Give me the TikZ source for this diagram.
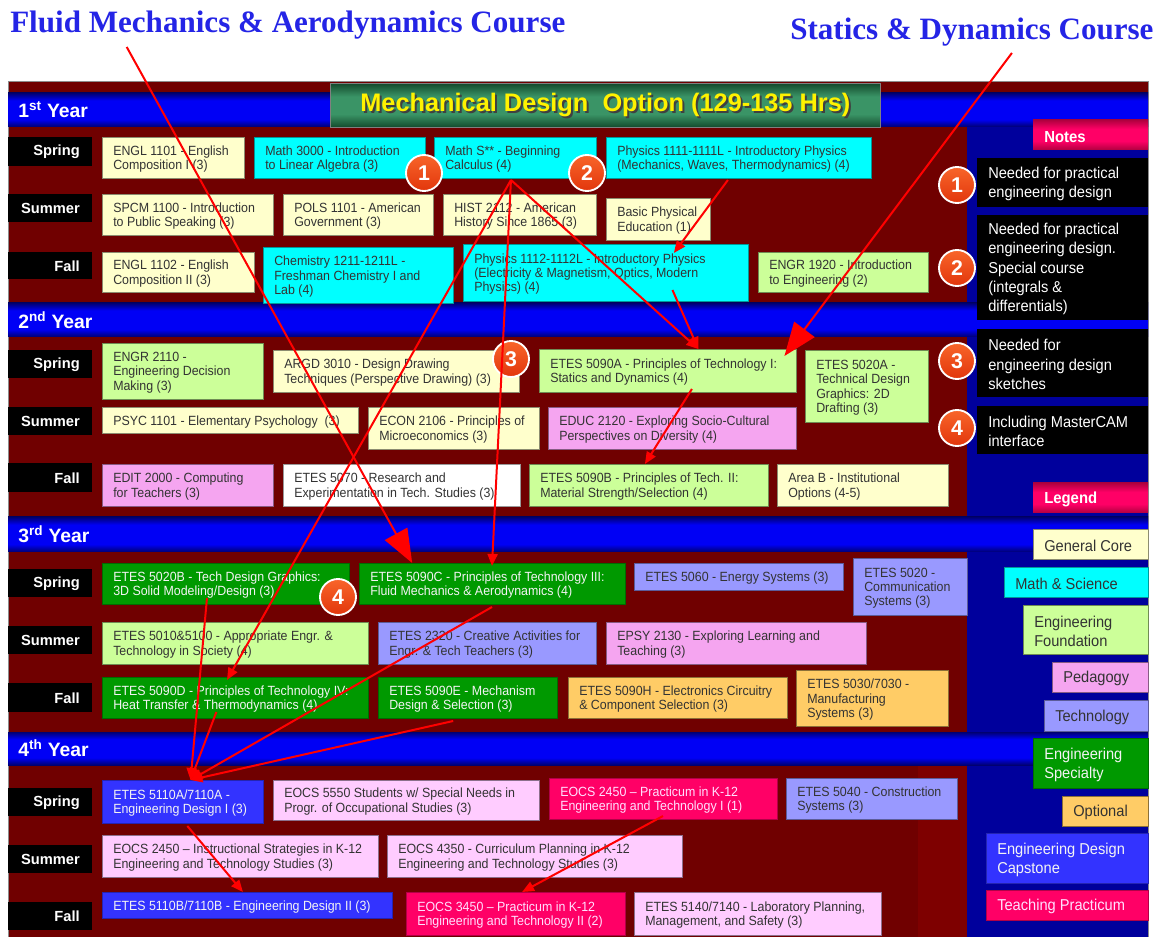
\documentclass[tikz,border=0pt]{standalone}
\usepackage{fontspec}
\setmainfont{Liberation Sans}
\newfontfamily\boxfont[FakeStretch=0.93]{Liberation Sans}
\newfontfamily\ttlfont{Liberation Serif}
\usetikzlibrary{arrows.meta,calc,shadings}

% palette
\definecolor{bgRed}{HTML}{700000}
\definecolor{bgRedB}{HTML}{7E0000}
\definecolor{bgNavy}{HTML}{00009C}
\definecolor{ybDark}{HTML}{000070}
\definecolor{ybLight}{HTML}{0000F5}
\definecolor{hdDark}{HTML}{134A2C}
\definecolor{hdLight}{HTML}{3A9466}
\definecolor{pkDark}{HTML}{B0003F}
\definecolor{pkLight}{HTML}{FF0066}
\definecolor{cCream}{HTML}{FFFFCC}
\definecolor{cCyan}{HTML}{00FFFF}
\definecolor{cLGreen}{HTML}{CCFF99}
\definecolor{cPink}{HTML}{F5A5F0}
\definecolor{cLPink}{HTML}{FFCCFF}
\definecolor{cTech}{HTML}{9999FF}
\definecolor{cGreen}{HTML}{009900}
\definecolor{cOrange}{HTML}{FFCC66}
\definecolor{cBlue}{HTML}{3333FF}
\definecolor{cHot}{HTML}{FF0066}
\definecolor{txtDark}{HTML}{333333}
\definecolor{txtLight}{HTML}{F4F4F4}
\definecolor{ttlBlue}{HTML}{2424E6}
\definecolor{numTop}{HTML}{F8652A}
\definecolor{numBot}{HTML}{E2360C}

% shadings for the bars
\pgfdeclareverticalshading{yearbar}{100bp}{color(0bp)=(ybDark); color(25bp)=(ybDark); color(36bp)=(ybLight); color(64bp)=(ybLight); color(75bp)=(ybDark); color(100bp)=(ybDark)}
\pgfdeclareverticalshading{headbar}{100bp}{color(0bp)=(hdDark); color(25bp)=(hdDark); color(40bp)=(hdLight); color(60bp)=(hdLight); color(75bp)=(hdDark); color(100bp)=(hdDark)}
\pgfdeclareverticalshading{pinkbar}{100bp}{color(0bp)=(pkDark); color(25bp)=(pkDark); color(40bp)=(pkLight); color(60bp)=(pkLight); color(75bp)=(pkDark); color(100bp)=(pkDark)}

\tikzset{
  crsfont/.style={font=\boxfont\fontsize{10}{10.7}\selectfont, align=left, inner sep=0pt},
  notefont/.style={font=\boxfont\fontsize{11.8}{14.5}\selectfont, align=left, inner sep=0pt},
  headfont/.style={font=\boxfont\bfseries\fontsize{12}{14}\selectfont, align=left, inner sep=0pt},
  bCream/.style={fill=cCream, draw=cCream!55!black},   bCream-txt/.style={text=txtDark},
  bCyan/.style={fill=cCyan, draw=cCyan!60!black},      bCyan-txt/.style={text=txtDark},
  bLGreen/.style={fill=cLGreen, draw=cLGreen!55!black},bLGreen-txt/.style={text=txtDark},
  bPink/.style={fill=cPink, draw=cPink!55!black},      bPink-txt/.style={text=txtDark},
  bLPink/.style={fill=cLPink, draw=cLPink!55!black},   bLPink-txt/.style={text=txtDark},
  bWhite/.style={fill=white, draw=black!40},           bWhite-txt/.style={text=txtDark},
  bTech/.style={fill=cTech, draw=cTech!60!black},      bTech-txt/.style={text=txtDark},
  bOrange/.style={fill=cOrange, draw=cOrange!55!black},bOrange-txt/.style={text=txtDark},
  bGreen/.style={fill=cGreen, draw=cGreen!70!black},   bGreen-txt/.style={text=txtLight},
  bBlue/.style={fill=cBlue, draw=cBlue!70!black},      bBlue-txt/.style={text=txtLight},
  bHot/.style={fill=cHot, draw=cHot!70!black},         bHot-txt/.style={text=cLPink!60!white},
  bBlack/.style={fill=black},                          bBlack-txt/.style={text=white},
  bNote/.style={shading=pinkbar},                      bNote-txt/.style={text=white},
  seasontxt/.style={text=white, inner sep=0pt, font=\bfseries\fontsize{11}{12}\selectfont},
  yearlbl/.style={text=white, inner sep=0pt, anchor=west, font=\bfseries\fontsize{14.5}{15}\selectfont},
  num/.style={circle, top color=numTop, bottom color=numBot, draw=white, line width=1.4pt,
    minimum size=27pt, inner sep=0pt, text=white, font=\bfseries\fontsize{16}{16}\selectfont},
  arr/.style={draw=red, line width=1.5pt, -{Triangle[length=9pt,width=7.5pt]}},
  bigarr/.style={draw=red, line width=1.5pt, -{Triangle[length=25pt,width=19pt]}},
}

% course box: [font style]{name}{box style}{x1}{y1}{x2}{y2}{text}
\newcommand\crsbox[8][crsfont]{%
  \pgfmathsetmacro\bxw{(#6-#4)*0.75}%
  \pgfmathsetmacro\bxh{(#7-#5)*0.75}%
  \node[#3,rectangle,inner sep=0pt,outer sep=0pt,line width=0.6pt,
        minimum width=\bxw pt,minimum height=\bxh pt,anchor=north west] (#2) at (#4,#5) {};%
  \node[#1,#3-txt,anchor=west] (#2-t) at ([xshift=8.25pt,yshift=-1.2pt]#2.west) {#8};%
}
% term label on the left: {name}{y1}{y2}{text}
\newcommand\seasonlbl[4]{%
  \pgfmathsetmacro\bxh{(#3-#2)*0.75}%
  \node[fill=black,inner sep=0pt,outer sep=0pt,minimum width=63pt,minimum height=\bxh pt,anchor=north west] (#1) at (8,#2) {};%
  \node[seasontxt,anchor=east] (#1-t) at ([xshift=-9pt,yshift=-0.5pt]#1.east) {#4};%
}

\begin{document}
\begin{tikzpicture}[x=0.75pt,y=-0.75pt]
\useasboundingbox (0,0) rectangle (1157,937);
\fill[white] (0,0) rectangle (1157,937);

% panels
\fill[bgRed] (8,82) rectangle (1148,937);
\fill[bgRedB] (918,765) rectangle (967,937);
\fill[bgNavy] (967,127) rectangle (1148,937);
\draw[black!45, line width=0.75pt] (8,82) rectangle (1148,937);

% year bars
\fill[shading=yearbar] (8,93) rectangle (1148,127);
\fill[shading=yearbar] (8,303) rectangle (1148,337);
\fill[shading=yearbar] (8,517) rectangle (1148,552);
\fill[shading=yearbar] (8,732) rectangle (1148,765);
\node[yearlbl] (yr1) at (18,110) {1\textsuperscript{st} Year};
\node[yearlbl] (yr2) at (18,320) {2\textsuperscript{nd} Year};
\node[yearlbl] (yr3) at (18,534.5) {3\textsuperscript{rd} Year};
\node[yearlbl] (yr4) at (18,748.5) {4\textsuperscript{th} Year};

% program header
\node[shading=headbar, draw=black!50, line width=0.5pt, minimum width=412.5pt, minimum height=33pt,
      inner sep=0pt, anchor=north west] (hdr) at (330,83) {};
\node[text=black!75, font=\bfseries\fontsize{19}{20}\selectfont, inner sep=0pt] (hdr-s) at ([xshift=1.5pt,yshift=-1.5pt]hdr.center) {Mechanical Design~ Option (129-135 Hrs)};
\node[text=yellow, font=\bfseries\fontsize{19}{20}\selectfont, inner sep=0pt] (hdr-t) at (hdr.center) {Mechanical Design~ Option (129-135 Hrs)};

% course titles above
\node[text=ttlBlue, font=\ttlfont\bfseries\fontsize{23.3}{24}\selectfont, inner sep=0pt, anchor=base west] (fluidT) at (10,33) {Fluid Mechanics \& Aerodynamics Course};
\node[text=ttlBlue, font=\ttlfont\bfseries\fontsize{23.3}{24}\selectfont, inner sep=0pt, anchor=base west] (staticsT) at (790,40) {Statics \& Dynamics Course};

% term labels
\seasonlbl{s1a}{137}{166}{Spring}
\seasonlbl{s1b}{194}{222}{Summer}
\seasonlbl{s1c}{252}{279}{Fall}
\seasonlbl{s2a}{350}{378}{Spring}
\seasonlbl{s2b}{407}{435}{Summer}
\seasonlbl{s2c}{463}{492}{Fall}
\seasonlbl{s3a}{569}{597}{Spring}
\seasonlbl{s3b}{626}{654}{Summer}
\seasonlbl{s3c}{683}{712}{Fall}
\seasonlbl{s4a}{788}{816}{Spring}
\seasonlbl{s4b}{845}{873}{Summer}
\seasonlbl{s4c}{902}{930}{Fall}

% ---- 1st year
\crsbox{engA}{bCream}{102}{137}{244}{178}{ENGL 1101 - English\\Composition I (3)}
\crsbox{mathLA}{bCyan}{254}{137}{425}{178}{Math 3000 - Introduction\\to Linear Algebra (3)}
\crsbox{mathS}{bCyan}{434}{137}{596}{178}{Math S** - Beginning\\Calculus (4)}
\crsbox{phyA}{bCyan}{606}{137}{871}{178}{Physics 1111-1111L - Introductory Physics\\(Mechanics, Waves, Thermodynamics) (4)}
\crsbox{spcm}{bCream}{102}{194}{273}{235}{SPCM 1100 - Introduction\\to Public Speaking (3)}
\crsbox{pols}{bCream}{283}{194}{433}{235}{POLS 1101 - American\\Government (3)}
\crsbox{hist}{bCream}{443}{194}{596}{235}{HIST 2112 - American\\History Since 1865 (3)}
\crsbox{pe}{bCream}{606}{198}{710}{240}{Basic Physical\\Education (1)}
\crsbox{engB}{bCream}{102}{252}{254}{292}{ENGL 1102 - English\\Composition II (3)}
\crsbox{chem}{bCyan}{263}{247}{453}{303}{Chemistry 1211-1211L -\\Freshman Chemistry I and\\Lab (4)}
\crsbox{phyB}{bCyan}{463}{244}{748}{301}{Physics 1112-1112L - Introductory Physics\\(Electricity \& Magnetism, Optics, Modern\\Physics) (4)}
\crsbox{engrI}{bLGreen}{758}{252}{928}{292}{ENGR 1920 - Introduction\\to Engineering (2)}

% ---- 2nd year
\crsbox{engrD}{bLGreen}{102}{343}{263}{399}{ENGR 2110 -\\Engineering Decision\\Making (3)}
\crsbox{argd}{bCream}{273}{350}{519}{392}{ARGD 3010 - Design Drawing\\Techniques (Perspective Drawing) (3)}
\crsbox{ptA}{bLGreen}{539}{349}{796}{392}{ETES 5090A - Principles of Technology I:\\Statics and Dynamics (4)}
\crsbox{tdA}{bLGreen}{805}{350}{928}{422}{ETES 5020A -\\Technical Design\\Graphics: 2D\\Drafting (3)}
\crsbox{psyc}{bCream}{102}{407}{358}{433}{PSYC 1101 - Elementary Psychology~ (3)}
\crsbox{econ}{bCream}{368}{407}{539}{449}{ECON 2106 - Principles of\\Microeconomics (3)}
\crsbox{educ}{bPink}{548}{407}{796}{449}{EDUC 2120 - Exploring Socio-Cultural\\Perspectives on Diversity (4)}
\crsbox{edit}{bPink}{102}{464}{273}{506}{EDIT 2000 - Computing\\for Teachers (3)}
\crsbox{resx}{bWhite}{283}{464}{520}{506}{ETES 5070 - Research and\\Experimentation in Tech. Studies (3)}
\crsbox{ptB}{bLGreen}{529}{464}{768}{506}{ETES 5090B - Principles of Tech. II:\\Material Strength/Selection (4)}
\crsbox{areaB}{bCream}{777}{464}{948}{506}{Area B - Institutional\\Options (4-5)}

% ---- 3rd year
\crsbox{tdB}{bGreen}{102}{563}{349}{604}{ETES 5020B - Tech Design Graphics:\\3D Solid Modeling/Design (3)}
\crsbox{ptC}{bGreen}{359}{563}{625}{604}{ETES 5090C - Principles of Technology III:\\Fluid Mechanics \& Aerodynamics (4)}
\crsbox{energy}{bTech}{634}{563}{843}{590}{ETES 5060 - Energy Systems (3)}
\crsbox{comm}{bTech}{853}{558}{967}{615}{ETES 5020 -\\Communication\\Systems (3)}
\crsbox{approp}{bLGreen}{102}{622}{368}{664}{ETES 5010\&5100 - Appropriate Engr. \&\\Technology in Society (4)}
\crsbox{creat}{bTech}{378}{622}{596}{664}{ETES 2320 - Creative Activities for\\Engr. \& Tech Teachers (3)}
\crsbox{epsy}{bPink}{606}{622}{866}{664}{EPSY 2130 - Exploring Learning and\\Teaching (3)}
\crsbox{ptD}{bGreen}{102}{677}{368}{718}{ETES 5090D - Principles of Technology IV:\\Heat Transfer \& Thermodynamics (4)}
\crsbox{ptE}{bGreen}{378}{677}{557}{718}{ETES 5090E - Mechanism\\Design \& Selection (3)}
\crsbox{ptH}{bOrange}{568}{677}{787}{718}{ETES 5090H - Electronics Circuitry\\\& Component Selection (3)}
\crsbox{manuf}{bOrange}{796}{670}{948}{726}{ETES 5030/7030 -\\Manufacturing\\Systems (3)}

% ---- 4th year
\crsbox{desA}{bBlue}{102}{780}{263}{823}{ETES 5110A/7110A -\\Engineering Design I (3)}
\crsbox{special}{bLPink}{273}{780}{539}{820}{EOCS 5550 Students w/ Special Needs in\\Progr. of Occupational Studies (3)}
\crsbox{pracA}{bHot}{549}{778}{777}{819}{EOCS 2450 \textendash{} Practicum in K-12\\Engineering and Technology I (1)}
\crsbox{constr}{bTech}{786}{778}{957}{819}{ETES 5040 - Construction\\Systems (3)}
\crsbox{instr}{bLPink}{102}{835}{378}{877}{EOCS 2450 \textendash{} Instructional Strategies in K-12\\Engineering and Technology Studies (3)}
\crsbox{curr}{bLPink}{387}{835}{682}{877}{EOCS 4350 - Curriculum Planning in K-12\\Engineering and Technology Studies (3)}
\crsbox{desB}{bBlue}{102}{892}{392}{918}{ETES 5110B/7110B - Engineering Design II (3)}
\crsbox{pracB}{bHot}{406}{892}{625}{935}{EOCS 3450 \textendash{} Practicum in K-12\\Engineering and Technology II (2)}
\crsbox{lab}{bLPink}{634}{892}{881}{935}{ETES 5140/7140 - Laboratory Planning,\\Management, and Safety (3)}

% ---- notes column
\crsbox[headfont]{notesH}{bNote}{1033}{120}{1148}{150}{Notes}
\crsbox[notefont]{noteA}{bBlack}{977}{158}{1148}{207}{Needed for practical\\engineering design}
\crsbox[notefont]{noteB}{bBlack}{977}{215}{1148}{320}{Needed for practical\\engineering design.\\Special course\\(integrals \&\\differentials)}
\crsbox[notefont]{noteC}{bBlack}{977}{329}{1148}{397}{Needed for\\engineering design\\sketches}
\crsbox[notefont]{noteD}{bBlack}{977}{406}{1148}{454}{Including MasterCAM\\interface}

% ---- legend column
\crsbox[headfont]{legH}{bNote}{1033}{483}{1148}{513}{Legend}
\crsbox[notefont]{lgA}{bCream}{1033}{529}{1148}{559}{General Core}
\crsbox[notefont]{lgB}{bCyan}{1004}{567}{1148}{597}{Math \& Science}
\crsbox[notefont]{lgC}{bLGreen}{1023}{605}{1148}{654}{Engineering\\Foundation}
\crsbox[notefont]{lgD}{bPink}{1052}{662}{1148}{692}{Pedagogy}
\crsbox[notefont]{lgE}{bTech}{1044}{700}{1148}{731}{Technology}
\crsbox[notefont]{lgF}{bGreen}{1033}{738}{1148}{788}{Engineering\\Specialty}
\crsbox[notefont]{lgG}{bOrange}{1062}{796}{1148}{826}{Optional}
\crsbox[notefont]{lgH}{bBlue}{986}{833}{1148}{883}{Engineering Design\\Capstone}
\crsbox[notefont]{lgI}{bHot}{986}{890}{1148}{920}{Teaching Practicum}

% numbered markers
\node[num] (m1) at (424,173) {1};
\node[num] (m2) at (587,173) {2};
\node[num] (m3) at (511,359) {3};
\node[num] (m4) at (338,597) {4};
\node[num] (k1) at (957,185) {1};
\node[num] (k2) at (957,268) {2};
\node[num] (k3) at (957,361) {3};
\node[num] (k4) at (957,428) {4};

% attachment points
\coordinate (mS) at ($(mathS.south west)!0.475!(mathS.south east)+(0,2)$);
\coordinate (ptA-in) at ($(ptA.north west)!0.62!(ptA.north east)$);
\coordinate (desA-in) at ($(desA.north west)!0.55!(desA.north east)$);

% prerequisite arrows
\draw[bigarr] ($(fluidT.south west)!0.21!(fluidT.south east)+(0,7)$) -- ($(ptC.north west)!0.2!(ptC.north east)$);
\draw[bigarr] ($(staticsT.south west)!0.61!(staticsT.south east)+(0,6)$) -- ($(ptA.north west)!0.955!(ptA.north east)+(0,7)$);
\draw[arr] (mS) -- (ptA-in);
\draw[arr] (mS) -- ($(ptC.north west)!0.5!(ptC.north east)+(0,3)$);
\draw[arr] (mS) -- ($(ptD.north west)!0.47!(ptD.north east)+(0,3)$);
\draw[arr] ($(phyA.south west)!0.46!(phyA.south east)+(0,2)$) -- ($(phyB.north west)!0.74!(phyB.north east)+(0,9)$);
\draw[arr] ($(phyB.south west)!0.735!(phyB.south east)+(0,-11)$) -- (ptA-in);
\draw[arr] ($(ptA.south west)!0.595!(ptA.south east)+(0,-3)$) -- ($(ptB.north west)!0.485!(ptB.north east)$);
\draw[arr] ($(tdB.south west)!0.425!(tdB.south east)+(0,-6)$) -- (desA-in);
\draw[arr] ($(ptD.south west)!0.43!(ptD.south east)+(0,-6)$) -- (desA-in);
\draw[arr] ($(ptC.south west)!0.5!(ptC.south east)+(0,3)$) -- (desA-in);
\draw[arr] ($(ptE.south west)!0.42!(ptE.south east)+(0,3)$) -- (desA-in);
\draw[arr] ($(desA.south west)!0.53!(desA.south east)+(0,3)$) -- ($(desB.north west)!0.486!(desB.north east)$);
\draw[arr] ($(pracA.south west)!0.5!(pracA.south east)+(0,-3)$) -- ($(pracB.north west)!0.53!(pracB.north east)$);
\end{tikzpicture}
\end{document}
